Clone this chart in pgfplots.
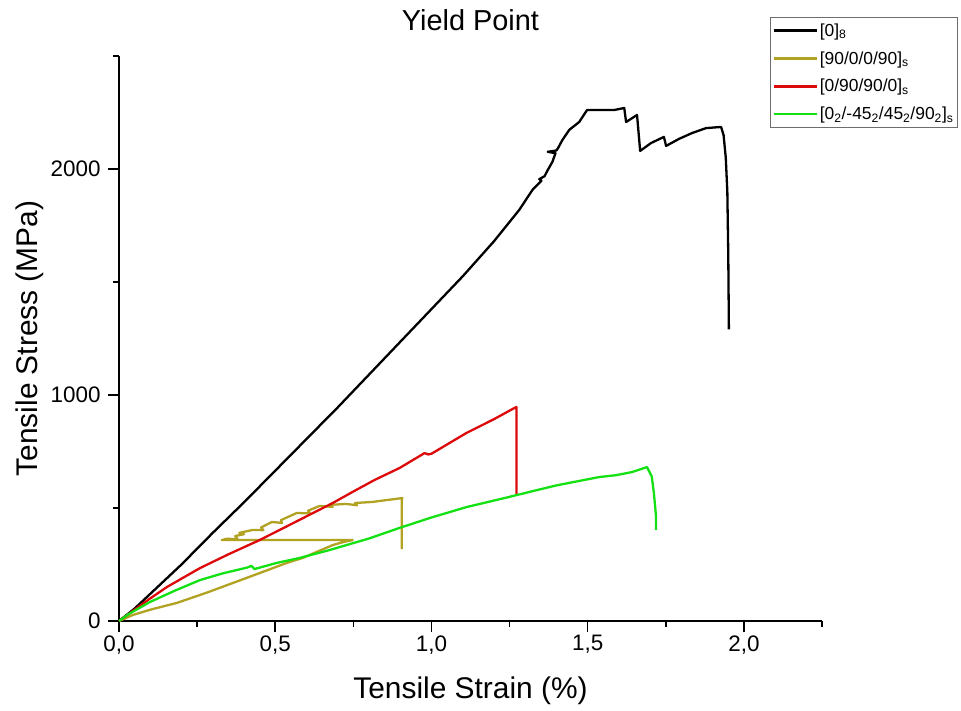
\documentclass[border=0pt]{standalone}
\usepackage{fontspec}
\setmainfont{Liberation Sans}
\usepackage{pgfplots}
\pgfplotsset{compat=1.18}

\definecolor{cblack}{RGB}{0,0,0}
\definecolor{colive}{RGB}{178,162,34}
\definecolor{cred}{RGB}{220,10,10}
\definecolor{cgreen}{RGB}{20,225,20}

\begin{document}
\begin{tikzpicture}
\begin{axis}[
  scale only axis,
  width=703bp, height=565bp,
  at={(0,0)}, anchor=south west,
  xmin=0, xmax=2.25, ymin=0, ymax=2500,
  axis lines*=left,
  axis line style={line width=1.6bp, black},
  every tick/.style={line width=1.6bp, black},
  tick align=outside,
  major tick length=11bp, minor tick length=6bp,
  xtick={0,0.5,1,1.5,2},
  minor xtick={0.25,0.75,1.25,1.75,2.25},
  ytick={0,1000,2000},
  minor ytick={500,1500,2500},
  /pgf/number format/assume math mode=true,
  xticklabel style={/pgf/number format/.cd, fixed, fixed zerofill, precision=1, use comma},
  yticklabel style={/pgf/number format/.cd, 1000 sep={}, /tikz/.cd, xshift=-4bp},
  ticklabel style={font=\fontsize{22.5}{27}\selectfont},
  xtick pos=bottom, ytick pos=left,
  xlabel={Tensile Strain (\%)},
  ylabel={Tensile Stress (MPa)},
  label style={font=\fontsize{30}{36}\selectfont},
  xlabel style={at={(axis description cs:0.5,-0.124)}, anchor=center},
  ylabel style={at={(axis description cs:-0.127,0.5)}, anchor=center, rotate=0},
  title={Yield Point},
  title style={font=\fontsize{29}{34}\selectfont, at={(axis description cs:0.5,1.052)}, anchor=center},
  clip=false,
  legend style={
    at={(axis description cs:0.926,1.069)}, anchor=north west,
    draw={rgb,255:red,110;green,110;blue,110}, line width=0.9bp,
    font=\fontsize{17.5}{21}\selectfont,
    inner xsep=2bp, inner ysep=4bp, row sep=9.8bp,
    cells={anchor=west},
  },
  legend image code/.code={\draw[#1, line width=2.4bp] (0bp,0bp) -- (43bp,0bp);},
  every axis plot/.append style={line width=2.3bp, line join=round},
]

% [0]_8 laminate
\addplot[cblack] coordinates {
(0,0) (0.05,55) (0.1,120) (0.2,250) (0.3,390) (0.4,525) (0.5,665) (0.6,805)
(0.7,945) (0.8,1090) (0.9,1235) (1.0,1380) (1.1,1525) (1.2,1680) (1.281,1819)
(1.323,1907) (1.352,1948) (1.345,1955) (1.362,1968) (1.372,1995) (1.387,2031)
(1.397,2070) (1.372,2076) (1.400,2082) (1.405,2092) (1.419,2128) (1.441,2173)
(1.473,2208) (1.498,2261) (1.585,2261) (1.617,2270) (1.623,2208) (1.658,2239)
(1.668,2080) (1.703,2115) (1.744,2142) (1.751,2102) (1.792,2133) (1.834,2159)
(1.879,2181) (1.927,2186) (1.935,2150) (1.942,2050) (1.947,1900) (1.950,1620)
(1.952,1290)
};
\addlegendentry{[0]\textsubscript{8}}

% [90/0/0/90]_s laminate
\addplot[colive] coordinates {
(0,0) (0.045,27) (0.1,50) (0.185,80) (0.28,125) (0.364,168) (0.45,212)
(0.537,257) (0.588,279) (0.684,336) (0.72,350) (0.748,358)
(0.329,358) (0.345,364) (0.38,362) (0.372,376) (0.40,384) (0.385,390)
(0.428,403) (0.462,402) (0.455,414) (0.489,438) (0.522,434) (0.518,446)
(0.569,478) (0.612,476) (0.605,488) (0.642,509) (0.684,505) (0.675,514)
(0.728,518) (0.762,512) (0.755,522) (0.812,527) (0.856,535) (0.907,544)
(0.905,535) (0.905,318)
};
\addlegendentry{[90/0/0/90]\textsubscript{s}}

% [0/90/90/0]_s laminate
\addplot[cred] coordinates {
(0,0) (0.05,50) (0.1,100) (0.153,150) (0.259,234) (0.35,295) (0.45,358)
(0.55,428) (0.684,522) (0.75,573) (0.818,624) (0.898,677) (0.978,743)
(0.99,737) (1.0,740) (1.112,832) (1.2,893) (1.265,942) (1.272,947) (1.272,557)
};
\addlegendentry{[0/90/90/0]\textsubscript{s}}

% [0_2/-45_2/45_2/90_2]_s laminate
\addplot[cgreen] coordinates {
(0,0) (0.03,30) (0.099,84) (0.18,135) (0.259,181) (0.33,210) (0.409,236)
(0.424,244) (0.434,230) (0.505,257) (0.578,279) (0.674,314) (0.8,365)
(0.898,412) (1.0,458) (1.112,504) (1.249,549) (1.313,571) (1.4,600)
(1.537,637) (1.59,645) (1.642,659) (1.69,681) (1.705,640) (1.712,566)
(1.719,460) (1.719,403)
};
\addlegendentry{[0\textsubscript{2}/-45\textsubscript{2}/45\textsubscript{2}/90\textsubscript{2}]\textsubscript{s}}

\end{axis}
\pgfresetboundingbox
\path (-119bp,-90bp) rectangle (842bp,621bp);
\end{tikzpicture}
\end{document}
